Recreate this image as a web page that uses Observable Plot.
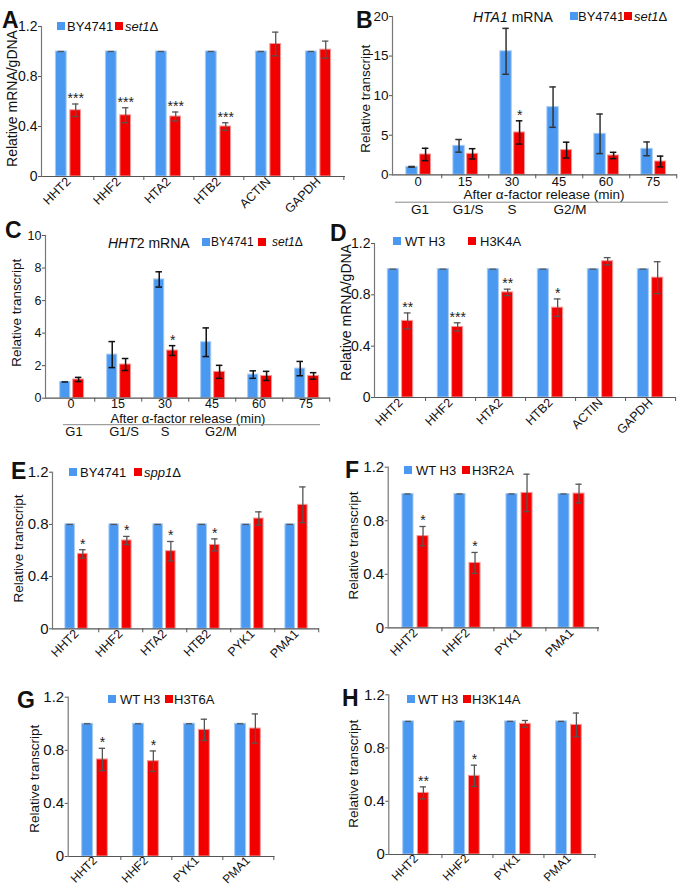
<!DOCTYPE html>
<html><head><meta charset="utf-8">
<script src="https://cdn.jsdelivr.net/npm/d3@7"></script>
<script src="https://cdn.jsdelivr.net/npm/@observablehq/plot@0.6"></script>
<style>
body{margin:0;background:#fff;}
#fig{position:relative;width:685px;height:886px;font-family:"Liberation Sans",Arial,Helvetica,sans-serif;color:#111;overflow:hidden;}
#fig svg{position:absolute;overflow:visible;background:transparent;}
.lab{position:absolute;white-space:nowrap;line-height:1;}
.sw{position:absolute;width:8px;height:8px;}
.letter{position:absolute;font-weight:bold;font-size:23px;line-height:1;}
</style></head>
<body><div id="fig"></div>
<script>
// ---------- data ----------
const genes6 = ["HHT2","HHF2","HTA2","HTB2","ACTIN","GAPDH"];
const genes6E = ["HHT2","HHF2","HTA2","HTB2","PYK1","PMA1"];
const genes4 = ["HHT2","HHF2","PYK1","PMA1"];
const times = ["0","15","30","45","60","75"];
const phases = ["G1","G1/S","S","G2/M"];
const phaseAt = ["0","15","30","45"];

// A
const aBY = [1,1,1,1,1,1];
const aBYerr = [0,0,0,0,0,0];
const aSet1 = [0.53,0.49,0.48,0.40,1.06,1.015];
const aSet1err = [0.05,0.06,0.036,0.03,0.095,0.068];
const aSig = ["***","***","***","***","",""];
// B (HTA1 mRNA)
const bBY = [1.0,3.66,15.6,8.55,5.18,3.28];
const bBYerr = [0.05,0.8,2.9,2.55,2.5,0.87];
const bSet1 = [2.57,2.65,5.35,3.12,2.44,1.68];
const bSet1err = [0.78,0.65,1.47,1.0,0.4,0.68];
const bSig = ["","","*","","",""];
// C (HHT2 mRNA)
const cBY = [1.0,2.68,7.3,3.44,1.45,1.82];
const cBYerr = [0.0,0.8,0.47,0.88,0.23,0.44];
const cSet1 = [1.15,2.07,2.93,1.62,1.37,1.37];
const cSet1err = [0.13,0.37,0.3,0.4,0.28,0.2];
const cSig = ["","","*","","",""];
// D
const dWT = [1,1,1,1,1,1];
const dWTerr = [0,0,0,0,0,0];
const dK4A = [0.597,0.55,0.819,0.70,1.062,0.934];
const dK4Aerr = [0.062,0.032,0.025,0.068,0.028,0.124];
const dSig = ["**","***","**","*","",""];
// E
const eBY = [0.8,0.8,0.8,0.8,0.8,0.8];
const eBYerr = [0,0,0,0,0,0];
const eSpp1 = [0.574,0.677,0.595,0.643,0.845,0.95];
const eSpp1err = [0.032,0.031,0.074,0.046,0.051,0.137];
const eSig = ["*","*","*","*","",""];
// F
const fWT = [1,1,1,1];
const fWTerr = [0,0,0,0];
const fR2A = [0.685,0.485,1.008,1.003];
const fR2Aerr = [0.072,0.078,0.14,0.07];
const fSig = ["*","*","",""];
// G
const gWT = [1,1,1,1];
const gWTerr = [0,0,0,0];
const gT6A = [0.731,0.718,0.954,0.964];
const gT6Aerr = [0.084,0.077,0.08,0.11];
const gSig = ["*","*","",""];
// H
const hWT = [1,1,1,1];
const hWTerr = [0,0,0,0];
const hK14A = [0.463,0.591,0.982,0.974];
const hK14Aerr = [0.045,0.08,0.025,0.089];
const hSig = ["**","*","",""];

const tick12 = [0,0.4,0.8,1.2];
const fmt12 = d => d === 0 ? "0" : d.toFixed(1);

// ---------- styles ----------
const BLUE = "#4a98f0", BLUE_EDGE = "#a6cbf5", RED = "#f20000", RED_EDGE = "#f59a9a";
const FONT = '"Liberation Sans", Arial, Helvetica, sans-serif';
const fig = document.getElementById("fig");

function addPanel(c) {
  const n = c.cats.length;
  const bw = (c.width - c.mL - c.mR) / n;
  const rows = c.cats.map((k, i) => ({cat: k, b: c.blue[i], be: c.blueErr[i], r: c.red[i], re: c.redErr[i], s: c.sig[i]}));
  const bL = c.bL ?? 0.245, bR = c.bR ?? 0.47, rL = c.rL ?? 0.53, rR = c.rR ?? 0.755;
  const offB = ((bL + bR) / 2 - 0.5) * bw, offR = ((rL + rR) / 2 - 0.5) * bw;
  const cap = 3.5;
  const errB = c.errB, errR = c.errR, ew = c.ew ?? 1.3;
  const capOpts = (off, col) => ({x: "cat", dx: off, insetLeft: bw / 2 - cap, insetRight: bw / 2 - cap, stroke: col, strokeWidth: ew});
  const marks = [
    Plot.barY(rows, {x: "cat", y: "b", fill: BLUE, stroke: BLUE_EDGE, strokeWidth: 1, insetLeft: bL * bw, insetRight: (1 - bR) * bw}),
    Plot.barY(rows, {x: "cat", y: "r", fill: RED, stroke: RED_EDGE, strokeWidth: 1, insetLeft: rL * bw, insetRight: (1 - rR) * bw}),
    Plot.ruleX(rows.filter(d => d.be > 0), {x: "cat", y1: d => d.b - d.be, y2: d => d.b + d.be, dx: offB, stroke: errB, strokeWidth: ew}),
    Plot.tickY(rows, {...capOpts(offB, errB), y: d => d.b + d.be}),
    Plot.tickY(rows.filter(d => d.be > 0), {...capOpts(offB, errB), y: d => d.b - d.be}),
    Plot.ruleX(rows.filter(d => d.re > 0), {x: "cat", y1: d => d.r - d.re, y2: d => d.r + d.re, dx: offR, stroke: errR, strokeWidth: ew}),
    Plot.tickY(rows, {...capOpts(offR, errR), y: d => d.r + d.re}),
    Plot.tickY(rows.filter(d => d.re > 0), {...capOpts(offR, errR), y: d => d.r - d.re}),
    Plot.text(rows.filter(d => d.s), {x: "cat", y: d => d.r + d.re, text: "s", dx: offR, dy: -1, lineAnchor: "bottom", fontSize: 14, fill: "#222"}),
    Plot.ruleY([0], {stroke: "#555", strokeWidth: 1.2}),
    Plot.frame({anchor: "left", stroke: "#777", strokeWidth: 1.2}),
    Plot.axisY({ticks: c.yTicks, tickFormat: c.yFmt, tickSize: 3, tickPadding: 1, fontSize: c.yFont, label: null, stroke: "#555"}),
    Plot.axisX({tickSize: 4, tickFormat: () => "", dx: bw / 2, label: null, stroke: "#555"}),
    Plot.axisX({tickSize: 0, tickRotate: c.rot ?? 0, tickPadding: c.xPad ?? 3, fontSize: c.xFont, label: null}),
    Plot.text([c.ylabel], {frameAnchor: "left", textAnchor: "middle", lineAnchor: "middle", rotate: -90, dx: c.ylDx, dy: c.ylDy, fontSize: c.ylFont, fill: "#111"})
  ];
  if (c.timeAxis) {
    marks.push(
      Plot.text(["After α-factor release (min)"], {frameAnchor: "bottom", lineAnchor: "middle", dx: c.xlDx, dy: c.xlDy, fontSize: c.tFont, fill: "#111"}),
      Plot.ruleY([0], {dy: c.lineDy, insetLeft: c.lineL, insetRight: c.lineR, stroke: "#888", strokeWidth: 1}),
      ...phases.map((p, i) => Plot.text([p], {x: () => phaseAt[i], text: d => d, frameAnchor: "bottom", lineAnchor: "middle", dy: c.phDy, dx: c.phDx[i], fontSize: c.tFont, fill: "#111"}))
    );
  }
  const svg = Plot.plot({
    width: c.width, height: c.height,
    marginLeft: c.mL, marginRight: c.mR, marginTop: c.mT, marginBottom: c.mB,
    x: {domain: c.cats, padding: 0},
    y: {domain: c.yDomain},
    style: {fontFamily: FONT, fontSize: "13px", overflow: "visible", background: "transparent", color: "#111"},
    marks
  });
  svg.style.left = c.left + "px";
  svg.style.top = c.top + "px";
  fig.appendChild(svg);
}

function txt(html, left, cy, size, extra = "") {
  const d = document.createElement("div");
  d.className = "lab";
  d.style.left = left + "px";
  d.style.top = (cy - size / 2) + "px";
  d.style.fontSize = size + "px";
  d.style.cssText += extra;
  d.innerHTML = html;
  fig.appendChild(d);
}
function sw(left, cy, color, s = 8) {
  const d = document.createElement("div");
  d.className = "sw";
  d.style.left = left + "px";
  d.style.top = (cy - s / 2) + "px";
  d.style.width = s + "px"; d.style.height = s + "px";
  d.style.background = color;
  fig.appendChild(d);
}
function letter(ch, left, top) {
  const d = document.createElement("div");
  d.className = "letter";
  d.style.left = left + "px"; d.style.top = top + "px";
  d.textContent = ch;
  fig.appendChild(d);
}
function legend(x1, t1, x2, t2, cy, label1, label2, size) {
  sw(x1, cy, BLUE); txt(label1, t1, cy, size);
  sw(x2, cy, RED); txt(label2, t2, cy, size);
}

// ---------- panels ----------
addPanel({left: 0, top: 0, width: 345, height: 215, mL: 41, mR: 0, mT: 26, mB: 39,
  cats: genes6, blue: aBY, blueErr: aBYerr, red: aSet1, redErr: aSet1err, sig: aSig,
  yDomain: [0, 1.2], yTicks: tick12, yFmt: fmt12, yFont: 14, xFont: 12.5, rot: -45,
  ylabel: "Relative mRNA/gDNA", ylDx: -29, ylDy: -3, ylFont: 14, errB: "#555", errR: "#555"});

addPanel({left: 340, top: 0, width: 345, height: 215, mL: 52, mR: 8, mT: 16, mB: 40.7,
  cats: times, blue: bBY, blueErr: bBYerr, red: bSet1, redErr: bSet1err, sig: bSig,
  yDomain: [0, 20], yTicks: [0,5,10,15,20], yFmt: d => String(d), yFont: 13.5, xFont: 13, xPad: 1.5,
  bL: 0.25, bR: 0.5, rL: 0.54, rR: 0.78,
  ylabel: "Relative transcript", ylDx: -27, ylDy: 3, ylFont: 13.5, errB: "#333", errR: "#111", ew: 1.5,
  timeAxis: true, tFont: 13.5, xlDx: 9, xlDy: 20, lineDy: 27.4, lineL: 3, lineR: 9, phDy: 34.5, phDx: [2, 3, 0, 11]});

addPanel({left: 0, top: 215, width: 340, height: 220, mL: 45, mR: 10, mT: 20, mB: 37.3,
  cats: times, blue: cBY, blueErr: cBYerr, red: cSet1, redErr: cSet1err, sig: cSig,
  yDomain: [0, 10], yTicks: [0,2,4,6,8,10], yFmt: d => String(d), yFont: 12.5, xFont: 12.5, xPad: 1,
  bL: 0.267, bR: 0.49, rL: 0.54, rR: 0.78,
  ylabel: "Relative transcript", ylDx: -29, ylDy: -4, ylFont: 13.5, errB: "#111", errR: "#111", ew: 1.5,
  timeAxis: true, tFont: 13, xlDx: 0, xlDy: 20.5, lineDy: 26.5, lineL: 18, lineR: 10, phDy: 34, phDx: [3, 6, 0, 9]});

addPanel({left: 340, top: 215, width: 345, height: 220, mL: 34, mR: 9.8, mT: 28, mB: 38,
  cats: genes6, blue: dWT, blueErr: dWTerr, red: dK4A, redErr: dK4Aerr, sig: dSig,
  yDomain: [0, 1.2], yTicks: tick12, yFmt: fmt12, yFont: 14, xFont: 12.5, rot: -45,
  ylabel: "Relative mRNA/gDNA", ylDx: -28, ylDy: -8, ylFont: 14, errB: "#555", errR: "#555"});

addPanel({left: 0, top: 440, width: 340, height: 220, mL: 52, mR: 21, mT: 31.7, mB: 31.7,
  cats: genes6E, blue: eBY, blueErr: eBYerr, red: eSpp1, redErr: eSpp1err, sig: eSig,
  yDomain: [0, 1.2], yTicks: tick12, yFmt: fmt12, yFont: 15, xFont: 12.5, rot: -45,
  ylabel: "Relative transcript", ylDx: -34, ylDy: -2, ylFont: 13.5, errB: "#555", errR: "#555"});

addPanel({left: 340, top: 440, width: 345, height: 220, mL: 47.7, mR: 86, mT: 26.7, mB: 32.7,
  cats: genes4, blue: fWT, blueErr: fWTerr, red: fR2A, redErr: fR2Aerr, sig: fSig,
  yDomain: [0, 1.2], yTicks: tick12, yFmt: fmt12, yFont: 15, xFont: 12.5, rot: -45,
  ylabel: "Relative transcript", ylDx: -35, ylDy: -2, ylFont: 13.5, errB: "#555", errR: "#555"});

addPanel({left: 0, top: 660, width: 340, height: 226, mL: 67.7, mR: 65.6, mT: 36.7, mB: 30,
  cats: genes4, blue: gWT, blueErr: gWTerr, red: gT6A, redErr: gT6Aerr, sig: gSig,
  yDomain: [0, 1.2], yTicks: tick12, yFmt: fmt12, yFont: 15, xFont: 12, xPad: 2, rot: -45,
  ylabel: "Relative transcript", ylDx: -34, ylDy: 2, ylFont: 13.5, errB: "#555", errR: "#555"});

addPanel({left: 340, top: 660, width: 345, height: 226, mL: 48.3, mR: 89.1, mT: 34.3, mB: 32,
  cats: genes4, blue: hWT, blueErr: hWTerr, red: hK14A, redErr: hK14Aerr, sig: hSig,
  yDomain: [0, 1.2], yTicks: tick12, yFmt: fmt12, yFont: 15, xFont: 12, xPad: 2, rot: -45,
  ylabel: "Relative transcript", ylDx: -35, ylDy: -1, ylFont: 13.5, errB: "#555", errR: "#555"});

// ---------- letters, titles, legends ----------
letter("A", 2, 9); letter("B", 356, 9); letter("C", 5, 219); letter("D", 330, 222);
letter("E", 11, 460); letter("F", 345, 459); letter("G", 17, 689); letter("H", 342, 687);

txt("<i>HTA1</i> mRNA", 473, 17, 14);
txt("<i>HHT</i>2 mRNA", 108, 243, 14);

legend(57, 67, 115, 125, 26, "BY4741", "<i>set1</i>Δ", 13);
legend(570, 578, 624, 634, 16, "BY4741", "<i>set1</i>Δ", 13);
legend(202, 211, 258, 272, 242, "BY4741", "<i>set1</i>Δ", 12);
legend(393, 405, 468, 480, 241, "WT H3", "H3K4A", 13);
legend(69, 80, 134, 144, 472, "BY4741", "<i>spp1</i>Δ", 13);
legend(404, 416, 462, 472, 470, "WT H3", "H3R2A", 13);
legend(108, 120, 165, 174, 699, "WT H3", "H3T6A", 13);
legend(407, 418, 463, 472, 699, "WT H3", "H3K14A", 13);
</script>
</body></html>
